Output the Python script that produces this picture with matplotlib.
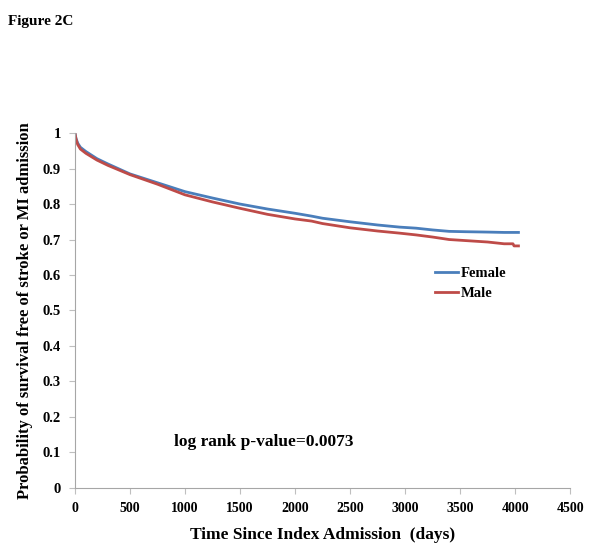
import numpy as np
import matplotlib.pyplot as plt

plt.rcParams['font.family'] = ['Liberation Serif', 'DejaVu Serif']
plt.rcParams['font.weight'] = 'bold'

# survival curves (days, probability)
female_days = [0, 10, 25, 50, 100, 200, 300, 500, 750, 1000, 1250, 1500, 1750,
               2000, 2150, 2250, 2500, 2750, 2950, 3100, 3250, 3400, 3550, 3750, 3900, 4030]
female_surv = [1.0, 0.985, 0.972, 0.96, 0.948, 0.928, 0.913, 0.885, 0.86, 0.835, 0.817,
               0.800, 0.786, 0.774, 0.766, 0.760, 0.750, 0.741, 0.735, 0.732, 0.727,
               0.723, 0.722, 0.721, 0.720, 0.720]
male_days = [0, 10, 25, 50, 100, 200, 300, 500, 750, 1000, 1250, 1500, 1750,
             2000, 2150, 2250, 2500, 2750, 2950, 3100, 3250, 3400, 3550, 3750, 3900,
             3980, 3990, 4030]
male_surv = [1.0, 0.983, 0.968, 0.955, 0.943, 0.924, 0.909, 0.883, 0.856, 0.826, 0.806,
             0.788, 0.771, 0.758, 0.752, 0.745, 0.733, 0.724, 0.718, 0.713, 0.707,
             0.700, 0.697, 0.693, 0.688, 0.688, 0.682, 0.682]

x_ticks = np.arange(0, 4501, 500)
y_ticks = np.round(np.arange(0, 1.01, 0.1), 1)

fig = plt.figure(figsize=(6.04, 5.5), dpi=100)
ax = fig.add_axes([0.124, 0.113, 0.82, 0.645])

ax.plot(female_days, female_surv, color='#4a7ebb', lw=2, label='Female')
ax.plot(male_days, male_surv, color='#be4b48', lw=2, label='Male')

ax.set_xlim(0, 4500)
ax.set_ylim(0, 1)
ax.set_xticks(x_ticks)
ax.set_yticks(y_ticks)
ax.set_xticklabels([str(v) for v in x_ticks], fontsize=10, fontweight='bold')
ax.set_yticklabels([f'{v:g}' for v in y_ticks], fontsize=10.5, fontweight='bold')
ax.tick_params(axis='both', direction='out', length=4, color='#bfbfbf', pad=6)
for s in ['top', 'right']:
    ax.spines[s].set_visible(False)
for s in ['left', 'bottom']:
    ax.spines[s].set_color('#a6a6a6')

ax.set_xlabel('Time Since Index Admission  (days)', fontsize=12.5, fontweight='bold', labelpad=9)
ax.set_ylabel('Probability of survival free of stroke or MI admission', fontsize=12,
              fontweight='bold', labelpad=7)

ax.legend(loc='upper left', bbox_to_anchor=(0.7, 0.66), frameon=False,
          handlelength=1.6, handletextpad=0.2, labelspacing=0.45,
          prop={'weight': 'bold', 'size': 10.5})

ax.text(0.2, 0.13, 'log rank p-value=0.0073', transform=ax.transAxes, fontsize=12.5,
        fontweight='bold', va='center')
fig.text(0.013, 0.972, 'Figure 2C', fontsize=11, fontweight='bold', va='top')

fig.savefig('out.png', dpi=100)
